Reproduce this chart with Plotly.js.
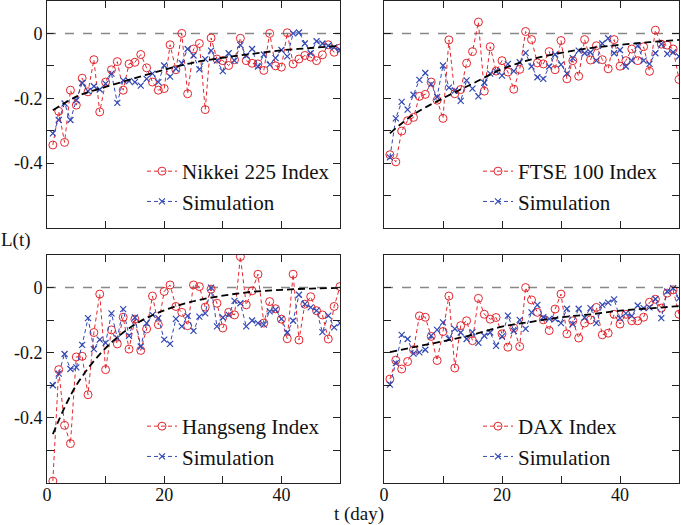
<!DOCTYPE html>
<html>
<head>
<meta charset="utf-8">
<script src="https://cdn.plot.ly/plotly-3.0.1.min.js"></script>
<style>
  html, body { margin: 0; padding: 0; background: #fff; }
  #plot { width: 681px; height: 525px; }
</style>
</head>
<body>
<div id="plot"></div>
<script>
// day index of every observation
const days = [1, 2, 3, 4, 5, 6, 7, 8, 9, 10, 11, 12, 13, 14, 15, 16, 17, 18, 19, 20,
  21, 22, 23, 24, 25, 26, 27, 28, 29, 30, 31, 32, 33, 34, 35, 36, 37, 38, 39, 40,
  41, 42, 43, 44, 45, 46, 47, 48, 49, 50];

const fitDays = [1, 5, 10, 15, 20, 25, 30, 35, 40, 45, 50];

// Nikkei 225
const nikkeiData = [-0.344, -0.24, -0.336, -0.175, -0.221, -0.138, -0.18, -0.081, -0.242, -0.15,
  -0.112, -0.087, -0.175, -0.094, -0.089, -0.065, -0.106, -0.15, -0.175, -0.17,
  -0.035, -0.112, 0.0, -0.186, -0.048, -0.031, -0.235, -0.014, -0.079, -0.084,
  -0.099, -0.081, -0.015, -0.084, -0.092, -0.094, -0.114, 0.0, -0.1, -0.104,
  0.002, -0.094, -0.079, -0.068, -0.073, -0.084, -0.066, -0.035, -0.058, -0.045];
const nikkeiSim = [-0.308, -0.267, -0.216, -0.267, -0.206, -0.153, -0.178, -0.163, -0.173, -0.155,
  -0.124, -0.214, -0.145, -0.147, -0.15, -0.161, -0.14, -0.124, -0.15, -0.099,
  -0.133, -0.109, -0.092, -0.048, -0.068, -0.111, -0.079, -0.053, -0.084, -0.116,
  -0.061, -0.084, -0.036, -0.068, -0.048, -0.102, -0.065, -0.096, -0.076, -0.051,
  -0.071, 0.0, 0.003, -0.031, -0.061, -0.024, -0.031, -0.038, -0.043, -0.051];
const nikkeiFit = [-0.237, -0.195, -0.165, -0.138, -0.112, -0.09, -0.075, -0.063, -0.052, -0.045, -0.038];

// FTSE 100
const ftseData = [-0.374, -0.396, -0.301, -0.269, -0.259, -0.194, -0.188, -0.15, -0.206, -0.262,
  -0.02, -0.186, -0.173, -0.092, -0.056, 0.035, -0.178, -0.041, -0.116, -0.084,
  -0.119, -0.172, -0.111, 0.006, -0.019, -0.091, -0.094, -0.056, -0.112, -0.022,
  -0.14, -0.084, -0.132, -0.019, -0.082, -0.038, -0.081, -0.109, -0.019, -0.101,
  -0.084, -0.048, -0.084, -0.041, -0.117, 0.01, -0.033, -0.036, -0.048, -0.142];
const ftseSim = [-0.382, -0.262, -0.211, -0.235, -0.189, -0.143, -0.122, -0.157, -0.196, -0.099,
  -0.167, -0.176, -0.208, -0.145, -0.17, -0.194, -0.152, -0.124, -0.117, -0.13,
  -0.094, -0.116, -0.089, -0.06, -0.102, -0.135, -0.14, -0.102, -0.065, -0.096,
  -0.124, -0.076, -0.053, -0.061, -0.058, -0.084, -0.031, -0.015, -0.061, -0.051,
  -0.102, -0.084, -0.038, -0.084, -0.094, -0.061, -0.033, -0.063, -0.058, -0.071];
const ftseFit = [-0.308, -0.25, -0.2, -0.155, -0.11, -0.08, -0.06, -0.045, -0.035, -0.027, -0.02];

// Hangseng
const hangsengData = [-0.594, -0.252, -0.423, -0.479, -0.213, -0.211, -0.329, -0.138, -0.02, -0.252,
  -0.13, -0.173, -0.091, -0.189, -0.097, -0.193, -0.127, -0.026, -0.114, -0.012,
  0.008, -0.058, -0.076, -0.117, 0.008, 0.003, -0.06, -0.005, -0.048, -0.124,
  -0.076, -0.084, 0.095, -0.053, -0.01, 0.041, -0.109, -0.043, -0.065, -0.097,
  -0.157, 0.041, -0.161, -0.051, -0.028, -0.071, -0.084, -0.158, -0.058, 0.003];
const hangsengSim = [-0.3, -0.264, -0.204, -0.25, -0.245, -0.176, -0.094, -0.189, -0.16, -0.17,
  -0.079, -0.155, -0.066, -0.148, -0.092, -0.181, -0.109, -0.084, -0.094, -0.16,
  -0.173, -0.096, -0.119, -0.087, -0.133, -0.089, -0.079, 0.0, -0.119, -0.092,
  -0.084, -0.041, -0.048, -0.119, -0.101, -0.109, -0.114, -0.073, -0.068, -0.096,
  -0.138, -0.102, -0.022, -0.051, -0.061, -0.071, -0.137, -0.086, -0.122, -0.109];
const hangsengFit = [-0.45, -0.3, -0.186, -0.113, -0.07, -0.042, -0.025, -0.013, -0.007, -0.003, -0.001];

// DAX
const daxData = [-0.281, -0.223, -0.25, -0.227, -0.191, -0.087, -0.091, -0.15, -0.224, -0.135,
  -0.026, -0.247, -0.117, -0.102, -0.163, -0.033, -0.082, -0.097, -0.092, -0.142,
  -0.183, -0.124, -0.181, 0.0, -0.038, -0.076, -0.099, -0.132, -0.066, -0.02,
  -0.142, -0.102, -0.155, -0.109, -0.099, -0.061, -0.145, -0.14, -0.082, -0.112,
  -0.082, -0.102, -0.102, -0.091, -0.045, -0.036, -0.063, -0.017, -0.007, -0.082];
const daxSim = [-0.298, -0.232, -0.145, -0.158, -0.203, -0.199, -0.191, -0.148, -0.13, -0.107,
  -0.157, -0.127, -0.138, -0.158, -0.137, -0.17, -0.148, -0.138, -0.179, -0.15,
  -0.086, -0.133, -0.099, -0.127, -0.076, -0.053, -0.091, -0.096, -0.097, -0.109,
  -0.065, -0.112, -0.065, -0.092, -0.063, -0.109, -0.053, -0.046, -0.036, -0.094,
  -0.079, -0.087, -0.055, -0.063, -0.061, -0.035, -0.094, -0.012, -0.002, -0.033];
const daxFit = [-0.198, -0.183, -0.165, -0.145, -0.12, -0.105, -0.091, -0.082, -0.071, -0.064, -0.057];

const panels = [
  { name: 'Nikkei 225 Index', data: nikkeiData, sim: nikkeiSim, fit: nikkeiFit },
  { name: 'FTSE 100 Index', data: ftseData, sim: ftseSim, fit: ftseFit },
  { name: 'Hangseng Index', data: hangsengData, sim: hangsengSim, fit: hangsengFit },
  { name: 'DAX Index', data: daxData, sim: daxSim, fit: daxFit }
];

const FONT = '"Liberation Serif", serif';
const RED = '#e3262e';
const BLUE = '#3248b4';

// panel boxes in pixels [left, right, top, bottom]
const W = 681, H = 525;
const boxes = [
  [47, 340, 1, 228],
  [384, 679, 1, 228],
  [47, 340, 255, 483],
  [384, 679, 255, 483]
];
const legendPos = [
  [142, 151], [478, 151], [142, 406], [478, 406]
];

const traces = [];
const layout = {
  width: W,
  height: H,
  margin: { l: 0, r: 0, t: 0, b: 0 },
  paper_bgcolor: '#fff',
  plot_bgcolor: '#fff',
  showlegend: true,
  font: { family: FONT, size: 18, color: '#111' },
  shapes: [],
  annotations: [
    { text: 'L(t)', xref: 'paper', yref: 'paper', x: 16 / W, y: 1 - 240 / H,
      xanchor: 'center', yanchor: 'middle',
      showarrow: false, font: { family: FONT, size: 19, color: '#111' } },
    { text: 't (day)', xref: 'paper', yref: 'paper', x: 359 / W, y: 1 - 514 / H,
      xanchor: 'center', yanchor: 'middle',
      showarrow: false, font: { family: FONT, size: 19, color: '#111' } }
  ]
};

panels.forEach((p, i) => {
  const n = i + 1;
  const sfx = n === 1 ? '' : String(n);
  const xa = 'x' + sfx, ya = 'y' + sfx;
  const leg = n === 1 ? 'legend' : 'legend' + n;

  traces.push({
    x: days, y: p.data, xaxis: xa, yaxis: ya, name: p.name, legend: leg,
    mode: 'lines+markers',
    line: { color: RED, width: 1, dash: '4px,3px' },
    marker: { symbol: 'circle-open', size: 8, color: RED, line: { width: 1, color: RED } }
  });
  traces.push({
    x: days, y: p.sim, xaxis: xa, yaxis: ya, name: 'Simulation', legend: leg,
    mode: 'lines+markers',
    line: { color: BLUE, width: 1, dash: '4px,3px' },
    marker: { symbol: 'x-thin-open', size: 6, color: BLUE, line: { width: 1.2, color: BLUE } }
  });
  traces.push({
    x: fitDays, y: p.fit, xaxis: xa, yaxis: ya, showlegend: false, mode: 'lines',
    line: { color: '#000', width: 1.8, dash: '7px,4px', shape: 'spline' }, hoverinfo: 'skip'
  });

  const b = boxes[i];
  const left = i % 2 === 0, bottom = i >= 2;
  layout['xaxis' + sfx] = {
    domain: [b[0] / W, b[1] / W], anchor: ya, range: [0, 50],
    tickvals: [0, 10, 20, 30, 40, 50], ticktext: ['0', '', '20', '', '40', ''],
    showticklabels: bottom, ticks: 'inside', ticklen: 7, tickcolor: '#222',
    ticklabelstandoff: -5,
    showline: true, linecolor: '#222', linewidth: 1, mirror: 'ticks',
    showgrid: false, zeroline: false,
    tickfont: { family: FONT, size: 18, color: '#111' }
  };
  layout['yaxis' + sfx] = {
    domain: [1 - b[3] / H, 1 - b[2] / H], anchor: xa, range: [-0.6, 0.1],
    tickvals: [-0.5, -0.4, -0.3, -0.2, -0.1, 0], ticktext: ['', '-0.4', '', '-0.2', '', '0'],
    showticklabels: left, ticks: 'inside', ticklen: 7, tickcolor: '#222',
    showline: true, linecolor: '#222', linewidth: 1, mirror: 'ticks',
    showgrid: false, zeroline: false,
    tickfont: { family: FONT, size: 18, color: '#111' }
  };
  layout.shapes.push({
    type: 'line', xref: xa + ' domain', yref: ya, x0: 0, x1: 1, y0: 0, y1: 0,
    line: { color: '#888', width: 1.5, dash: 'dash' }, layer: 'below'
  });
  layout[leg] = {
    x: legendPos[i][0] / W, y: 1 - legendPos[i][1] / H, xanchor: 'left', yanchor: 'top',
    bgcolor: 'rgba(0,0,0,0)', borderwidth: 0, traceorder: 'normal',
    font: { family: FONT, size: 21, color: '#111' }
  };
});

Plotly.newPlot('plot', traces, layout, { displayModeBar: false, staticPlot: true });
</script>
</body>
</html>
